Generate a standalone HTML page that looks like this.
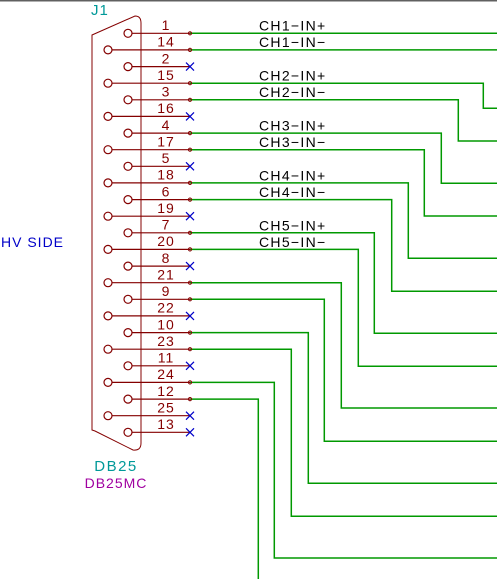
<!DOCTYPE html>
<html><head><meta charset="utf-8"><style>
html,body{margin:0;padding:0;background:#fff;}
svg{display:block;}
text{font-family:"Liberation Sans",sans-serif;}
</style></head><body>
<svg width="497" height="579" viewBox="0 0 497 579" xmlns="http://www.w3.org/2000/svg">
<rect x="0" y="0" width="497" height="1.5" fill="#606060"/>
<!-- connector body -->
<path d="M92,35 L135,16 Q141,16 141,23 L141,443 Q141,451 133,450 L95,431 L92,430 Z" fill="none" stroke="#840000" stroke-width="1"/>
<g stroke="#840000" stroke-width="1.2" fill="none">
<circle cx="128" cy="33.3" r="4"/><line x1="132" y1="33.3" x2="190" y2="33.3"/>
<circle cx="108" cy="49.9" r="4"/><line x1="112" y1="49.9" x2="190" y2="49.9"/>
<circle cx="128" cy="66.6" r="4"/><line x1="132" y1="66.6" x2="190" y2="66.6"/>
<circle cx="108" cy="83.2" r="4"/><line x1="112" y1="83.2" x2="190" y2="83.2"/>
<circle cx="128" cy="99.8" r="4"/><line x1="132" y1="99.8" x2="190" y2="99.8"/>
<circle cx="108" cy="116.4" r="4"/><line x1="112" y1="116.4" x2="190" y2="116.4"/>
<circle cx="128" cy="133.1" r="4"/><line x1="132" y1="133.1" x2="190" y2="133.1"/>
<circle cx="108" cy="149.7" r="4"/><line x1="112" y1="149.7" x2="190" y2="149.7"/>
<circle cx="128" cy="166.3" r="4"/><line x1="132" y1="166.3" x2="190" y2="166.3"/>
<circle cx="108" cy="182.9" r="4"/><line x1="112" y1="182.9" x2="190" y2="182.9"/>
<circle cx="128" cy="199.6" r="4"/><line x1="132" y1="199.6" x2="190" y2="199.6"/>
<circle cx="108" cy="216.2" r="4"/><line x1="112" y1="216.2" x2="190" y2="216.2"/>
<circle cx="128" cy="232.8" r="4"/><line x1="132" y1="232.8" x2="190" y2="232.8"/>
<circle cx="108" cy="249.4" r="4"/><line x1="112" y1="249.4" x2="190" y2="249.4"/>
<circle cx="128" cy="266.1" r="4"/><line x1="132" y1="266.1" x2="190" y2="266.1"/>
<circle cx="108" cy="282.7" r="4"/><line x1="112" y1="282.7" x2="190" y2="282.7"/>
<circle cx="128" cy="299.3" r="4"/><line x1="132" y1="299.3" x2="190" y2="299.3"/>
<circle cx="108" cy="315.9" r="4"/><line x1="112" y1="315.9" x2="190" y2="315.9"/>
<circle cx="128" cy="332.6" r="4"/><line x1="132" y1="332.6" x2="190" y2="332.6"/>
<circle cx="108" cy="349.2" r="4"/><line x1="112" y1="349.2" x2="190" y2="349.2"/>
<circle cx="128" cy="365.8" r="4"/><line x1="132" y1="365.8" x2="190" y2="365.8"/>
<circle cx="108" cy="382.4" r="4"/><line x1="112" y1="382.4" x2="190" y2="382.4"/>
<circle cx="128" cy="399.1" r="4"/><line x1="132" y1="399.1" x2="190" y2="399.1"/>
<circle cx="108" cy="415.7" r="4"/><line x1="112" y1="415.7" x2="190" y2="415.7"/>
<circle cx="128" cy="432.3" r="4"/><line x1="132" y1="432.3" x2="190" y2="432.3"/>
</g>
<g fill="#840000" font-size="14" text-anchor="middle" letter-spacing="1">
<text x="166" y="30">1</text><text x="166" y="46.6">14</text><text x="166" y="63.3">2</text>
<text x="166" y="79.9">15</text><text x="166" y="96.5">3</text><text x="166" y="113.1">16</text>
<text x="166" y="129.8">4</text><text x="166" y="146.4">17</text><text x="166" y="163">5</text>
<text x="166" y="179.6">18</text><text x="166" y="196.3">6</text><text x="166" y="212.9">19</text>
<text x="166" y="229.5">7</text><text x="166" y="246.1">20</text><text x="166" y="262.8">8</text>
<text x="166" y="279.4">21</text><text x="166" y="296">9</text><text x="166" y="312.6">22</text>
<text x="166" y="329.3">10</text><text x="166" y="345.9">23</text><text x="166" y="362.5">11</text>
<text x="166" y="379.1">24</text><text x="166" y="395.8">12</text><text x="166" y="412.4">25</text>
<text x="166" y="429">13</text>
</g>
<!-- wires -->
<g stroke="#009900" stroke-width="1.5" fill="none">
<polyline points="190,33.3 497,33.3"/>
<polyline points="190,49.9 497,49.9"/>
<polyline points="190,83.2 483.3,83.2 483.3,108.3 497,108.3"/>
<polyline points="190,99.8 458.3,99.8 458.3,141 497,141"/>
<polyline points="190,133.1 441.3,133.1 441.3,183.3 497,183.3"/>
<polyline points="190,149.7 424.3,149.7 424.3,216 497,216"/>
<polyline points="190,182.9 408.3,182.9 408.3,258.3 497,258.3"/>
<polyline points="190,199.6 391.7,199.6 391.7,291.3 497,291.3"/>
<polyline points="190,232.8 374.3,232.8 374.3,333.3 497,333.3"/>
<polyline points="190,249.4 358.3,249.4 358.3,366.3 497,366.3"/>
<polyline points="190,282.7 341.3,282.7 341.3,408 497,408"/>
<polyline points="190,299.3 324.3,299.3 324.3,441.3 497,441.3"/>
<polyline points="190,332.6 308.3,332.6 308.3,483.3 497,483.3"/>
<polyline points="190,349.2 291.3,349.2 291.3,516.3 497,516.3"/>
<polyline points="190,382.4 274.3,382.4 274.3,558 497,558"/>
<polyline points="190,399.1 258.3,399.1 258.3,579"/>
</g>
<!-- connection endpoints -->
<g stroke="#840000" stroke-width="1" fill="none">
<circle cx="190" cy="33.3" r="1.6"/><circle cx="190" cy="49.9" r="1.6"/><circle cx="190" cy="83.2" r="1.6"/>
<circle cx="190" cy="99.8" r="1.6"/><circle cx="190" cy="133.1" r="1.6"/><circle cx="190" cy="149.7" r="1.6"/>
<circle cx="190" cy="182.9" r="1.6"/><circle cx="190" cy="199.6" r="1.6"/><circle cx="190" cy="232.8" r="1.6"/>
<circle cx="190" cy="249.4" r="1.6"/><circle cx="190" cy="282.7" r="1.6"/><circle cx="190" cy="299.3" r="1.6"/>
<circle cx="190" cy="332.6" r="1.6"/><circle cx="190" cy="349.2" r="1.6"/><circle cx="190" cy="382.4" r="1.6"/>
<circle cx="190" cy="399.1" r="1.6"/>
</g>
<!-- no-connect X -->
<g stroke="#0000c8" stroke-width="1.2">
<path d="M186,62.6 l8,8 M194,62.6 l-8,8"/>
<path d="M186,112.4 l8,8 M194,112.4 l-8,8"/>
<path d="M186,162.3 l8,8 M194,162.3 l-8,8"/>
<path d="M186,212.2 l8,8 M194,212.2 l-8,8"/>
<path d="M186,262.1 l8,8 M194,262.1 l-8,8"/>
<path d="M186,311.9 l8,8 M194,311.9 l-8,8"/>
<path d="M186,361.8 l8,8 M194,361.8 l-8,8"/>
<path d="M186,411.7 l8,8 M194,411.7 l-8,8"/>
<path d="M186,428.3 l8,8 M194,428.3 l-8,8"/>
</g>
<!-- net labels -->
<g fill="#000" font-size="14" letter-spacing="1.3">
<text x="259" y="30.5">CH1−IN+</text><text x="259" y="47">CH1−IN−</text>
<text x="259" y="80.5">CH2−IN+</text><text x="259" y="97">CH2−IN−</text>
<text x="259" y="130.5">CH3−IN+</text><text x="259" y="147">CH3−IN−</text>
<text x="259" y="180.5">CH4−IN+</text><text x="259" y="197">CH4−IN−</text>
<text x="259" y="230.5">CH5−IN+</text><text x="259" y="247">CH5−IN−</text>
</g>
<text x="91" y="15" fill="#009999" font-size="15" letter-spacing="1">J1</text>
<text x="1" y="247" fill="#0000c8" font-size="14" letter-spacing="1">HV SIDE</text>
<text x="116" y="471" fill="#009999" font-size="15" text-anchor="middle" letter-spacing="1.5">DB25</text>
<text x="116" y="488" fill="#a000a0" font-size="14" text-anchor="middle" letter-spacing="1">DB25MC</text>
</svg>
</body></html>
